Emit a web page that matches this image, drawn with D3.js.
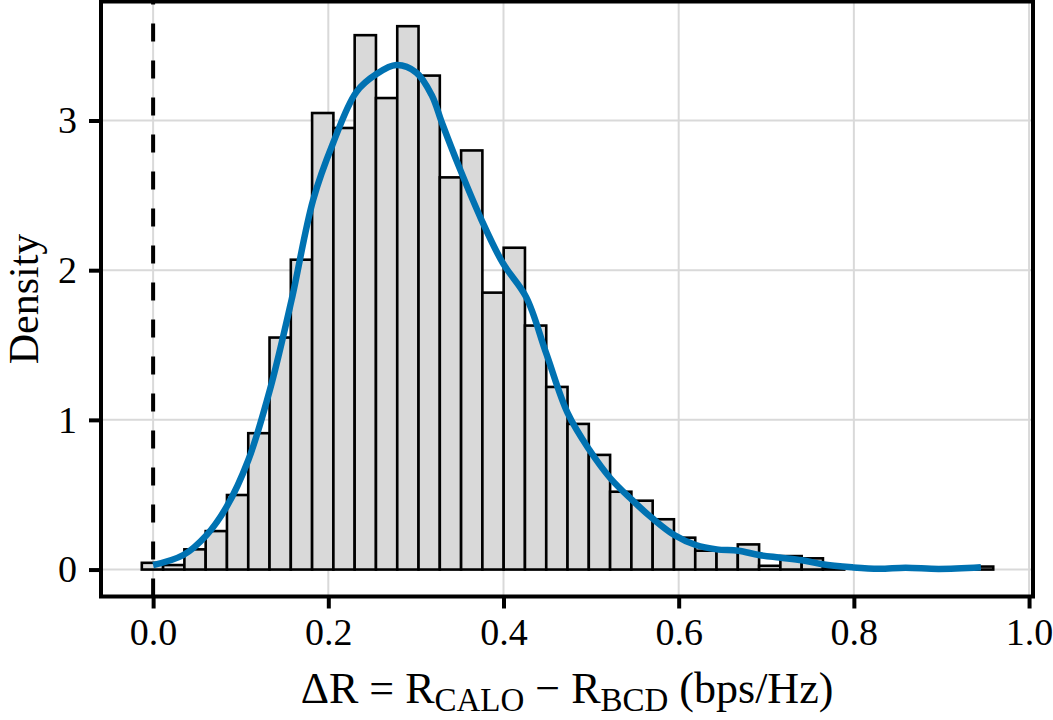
<!DOCTYPE html>
<html>
<head>
<meta charset="utf-8">
<script src="https://cdn.jsdelivr.net/npm/d3@7"></script>
<style>
	body { margin: 0; background: #fff; }
	text { font-family: "Liberation Serif", "Times New Roman", serif; fill: #000; }
</style>
</head>
<body>
<div id="chart"></div>
<script>
// histogram: 40 bins, left edge of the first bin and bin width
const binStart = -0.0129
const binWidth = 0.0243
const binHeights = [
	0.045, 0.03, 0.135, 0.257, 0.498, 0.911, 1.55, 2.07, 3.05, 2.95,
	3.57, 3.15, 3.63, 3.30, 2.62, 2.80, 1.85, 2.15, 1.63, 1.22,
	0.973, 0.766, 0.52, 0.46, 0.336, 0.213, 0.126, 0.126, 0.168, 0.025,
	0.09, 0.075, 0.01, 0.0, 0.0, 0.0, 0.0, 0.0, 0.0, 0.02
]

// kernel density estimate
const densX = [0, 0.0345, 0.061, 0.084, 0.1086, 0.1333, 0.158, 0.1827, 0.2055, 0.232,
	0.255, 0.2777, 0.3005, 0.318, 0.33, 0.35, 0.3746, 0.399, 0.4259, 0.4487,
	0.4733, 0.498, 0.522, 0.5467, 0.570, 0.5949, 0.6196, 0.6435, 0.668, 0.6917,
	0.715, 0.741, 0.764, 0.798, 0.8285, 0.859, 0.897, 0.945]
const densY = [0.03, 0.097, 0.23, 0.42, 0.73, 1.2, 1.80, 2.47, 2.85, 3.19,
	3.31, 3.37, 3.32, 3.17, 2.98, 2.68, 2.34, 2.05, 1.82, 1.446,
	1.045, 0.80, 0.61, 0.465, 0.342, 0.231, 0.164, 0.135, 0.126, 0.097,
	0.08, 0.062, 0.035, 0.015, 0.005, 0.012, 0.004, 0.015]

const vlineAt = 0
const xTicks = [0, 0.2, 0.4, 0.6, 0.8, 1.0]
const yTicks = [0, 1, 2, 3]

const params = {
	width: 1053, height: 720,
	left: 101, right: 1033, top: 1.5, bottom: 596.5,
	xDomain: [-0.0595, 1.0045], yDomain: [-0.18, 3.795]
}

const svg = d3.select("#chart").append("svg")
	.attr("width", params.width)
	.attr("height", params.height)

const xScale = d3.scaleLinear().domain(params.xDomain).range([params.left, params.right])
const yScale = d3.scaleLinear().domain(params.yDomain).range([params.bottom, params.top])

// grid
const grid = svg.append("g").attr("stroke", "#d9d9d9").attr("stroke-width", 2)
grid.selectAll(".gx").data(xTicks).join("line")
	.attr("x1", d => xScale(d)).attr("x2", d => xScale(d))
	.attr("y1", params.top).attr("y2", params.bottom)
grid.selectAll(".gy").data(yTicks).join("line")
	.attr("x1", params.left).attr("x2", params.right)
	.attr("y1", d => yScale(d)).attr("y2", d => yScale(d))

// bars
svg.append("g").selectAll("rect").data(binHeights).join("rect")
	.attr("x", (d, i) => xScale(binStart + i * binWidth))
	.attr("width", (d, i) => xScale(binStart + (i + 1) * binWidth) - xScale(binStart + i * binWidth))
	.attr("y", d => yScale(d))
	.attr("height", d => yScale(0) - yScale(d))
	.attr("fill", "#d9d9d9")
	.attr("stroke", "#000")
	.attr("stroke-width", 2.6)

// dashed reference line
svg.append("line")
	.attr("x1", xScale(vlineAt)).attr("x2", xScale(vlineAt))
	.attr("y1", params.bottom).attr("y2", params.top)
	.attr("stroke", "#000")
	.attr("stroke-width", 4)
	.attr("stroke-dasharray", "18,19")

// density curve
const dens = densX.map((x, i) => ({ x: x, y: densY[i] }))
svg.append("path")
	.datum(dens)
	.attr("fill", "none")
	.attr("stroke", "#0072B2")
	.attr("stroke-width", 6.5)
	.attr("stroke-linecap", "butt")
	.attr("d", d3.line().x(d => xScale(d.x)).y(d => yScale(d.y)).curve(d3.curveCatmullRom))

// panel frame
svg.append("rect")
	.attr("x", params.left).attr("y", params.top)
	.attr("width", params.right - params.left)
	.attr("height", params.bottom - params.top)
	.attr("fill", "none")
	.attr("stroke", "#000")
	.attr("stroke-width", 4)

// axes
const xAxis = svg.append("g")
	.attr("transform", `translate(0, ${params.bottom})`)
	.call(d3.axisBottom(xScale).tickValues(xTicks).tickFormat(d3.format(".1f")).tickSize(12).tickPadding(10))
const yAxis = svg.append("g")
	.attr("transform", `translate(${params.left}, 0)`)
	.call(d3.axisLeft(yScale).tickValues(yTicks).tickFormat(d3.format("d")).tickSize(12).tickPadding(12))

for (const ax of [xAxis, yAxis]) {
	ax.select(".domain").remove()
	ax.selectAll(".tick line").attr("stroke", "#000").attr("stroke-width", 4)
	ax.selectAll(".tick text")
		.attr("font-family", "Liberation Serif, serif")
		.attr("font-size", 38)
		.attr("fill", "#000")
}

// axis titles
svg.append("text")
	.attr("transform", `translate(38, ${(params.top + params.bottom) / 2}) rotate(-90)`)
	.attr("text-anchor", "middle")
	.attr("font-size", 42)
	.text("Density")

const xTitle = svg.append("text")
	.attr("x", (params.left + params.right) / 2)
	.attr("y", 703)
	.attr("text-anchor", "middle")
	.attr("font-size", 44)
xTitle.append("tspan").text("ΔR = R")
xTitle.append("tspan").attr("font-size", 33).attr("dy", 8).text("CALO")
xTitle.append("tspan").attr("dy", -8).text(" − R")
xTitle.append("tspan").attr("font-size", 33).attr("dy", 8).text("BCD")
xTitle.append("tspan").attr("dy", -8).text(" (bps/Hz)")
</script>
</body>
</html>
